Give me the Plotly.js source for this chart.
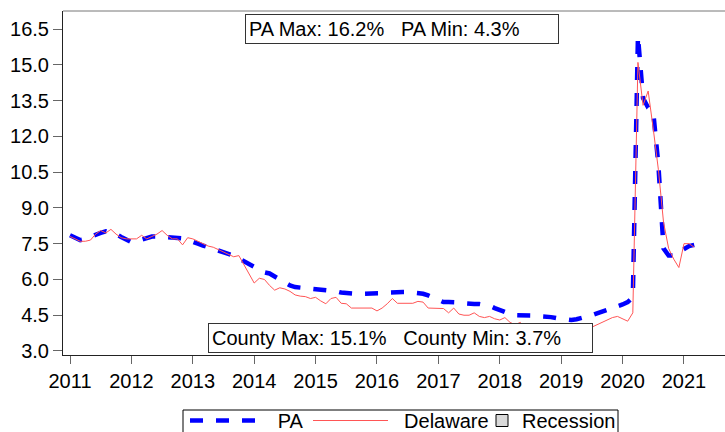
<!DOCTYPE html>
<html>
<head>
<meta charset="utf-8">
<script src="https://cdn.plot.ly/plotly-3.0.1.min.js"></script>
<style>html,body{margin:0;padding:0;background:#fff;}#chart{width:725px;height:432px;}</style>
</head>
<body>
<div id="chart"></div>
<script>
// Monthly unemployment rate (%), Jan 2011 .. Mar 2021
const startYear = 2011;
const paRate = [
  7.85, 7.75, 7.65, 7.7, 7.8, 7.88, 7.95, 8.02, 7.98, 7.9, 7.78, 7.65,
  7.56, 7.6, 7.68, 7.75, 7.8, 7.8, 7.78, 7.77, 7.77, 7.76, 7.72, 7.66,
  7.6, 7.5, 7.42, 7.35, 7.27, 7.18, 7.1, 7.05, 7.0, 6.88, 6.76, 6.65,
  6.55, 6.42, 6.3, 6.25, 6.12, 6.0, 5.85, 5.75, 5.68, 5.66, 5.63, 5.6,
  5.57, 5.56, 5.56, 5.55, 5.5, 5.45, 5.42, 5.4, 5.4, 5.4, 5.4, 5.4,
  5.4, 5.42, 5.45, 5.47, 5.47, 5.47, 5.47, 5.45, 5.42, 5.4, 5.33, 5.25,
  5.15, 5.05, 5.05, 5.05, 5.03, 5.0, 4.97, 4.97, 4.97, 4.95, 4.9, 4.8,
  4.7, 4.6, 4.55, 4.5, 4.5, 4.5, 4.5, 4.48, 4.45, 4.45, 4.42, 4.38,
  4.35, 4.32, 4.3, 4.33, 4.38, 4.42, 4.5, 4.58, 4.65, 4.72, 4.8, 4.85,
  4.95, 5.05, 5.25, 16.2, 13.6, 13.2, 13.0, 10.8, 7.3, 7.0, 7.0, 7.15,
  7.3, 7.4, 7.45
];
const delawareRate = [
  7.8, 7.7, 7.6, 7.6, 7.65, 7.9, 8.05, 7.95, 8.1, 7.9, 7.75, 7.7,
  7.7, 7.7, 7.85, 7.7, 7.8, 7.9, 8.05, 7.85, 7.7, 7.7, 7.45, 7.75,
  7.7, 7.6, 7.5, 7.4, 7.35, 7.25, 7.15, 7.05, 6.95, 7.0, 6.6, 6.2,
  5.85, 6.05, 6.0, 5.75, 5.55, 5.65, 5.6, 5.5, 5.35, 5.3, 5.28, 5.2,
  5.25, 5.1, 4.98, 5.2, 5.25, 5.0, 4.98, 4.8, 4.8, 4.8, 4.8, 4.8,
  4.68, 4.8, 4.98, 5.2, 5.0, 5.0, 5.0, 5.0, 5.08, 5.05, 4.8, 4.8,
  4.8, 4.78, 4.6, 4.8, 4.55, 4.5, 4.5, 4.6, 4.45, 4.4, 4.45, 4.35,
  4.3, 4.4, 4.2, 4.1, 4.2, 4.0, 4.0, 4.0, 3.95, 3.95, 3.9, 3.9,
  3.85, 3.7, 3.9, 3.85, 3.9, 3.9, 4.0, 4.1, 4.2, 4.3, 4.4, 4.45,
  4.35, 4.25, 4.6, 15.1, 13.3, 13.9, 12.3, 10.6, 8.4, 7.3, 6.85, 6.5,
  7.5, 7.5, 7.35
];
const yearTicks = [2011, 2012, 2013, 2014, 2015, 2016, 2017, 2018, 2019, 2020, 2021];
const yearLabels = ['2011', '2012', '2013', '2014', '2015', '2016', '2017', '2018', '2019', '2020', '2021'];
const yTicks = [3.0, 4.5, 6.0, 7.5, 9.0, 10.5, 12.0, 13.5, 15.0, 16.5];
const seriesNames = ['PA', 'Delaware', 'Recession'];
const paNote = 'PA Max: 16.2%\u00a0\u00a0\u00a0PA Min: 4.3%';
const countyNote = 'County Max: 15.1%\u00a0\u00a0\u00a0County Min: 3.7%';

const monthX = paRate.map((_, i) => startYear + i / 12);
const monthXd = delawareRate.map((_, i) => startYear + i / 12);

const FONT = 'Liberation Sans, Arial, sans-serif';
const NB = '\u00a0';

const traces = [
  {
    type: 'scatter', mode: 'lines', name: NB + NB + NB + seriesNames[0],
    x: monthX, y: paRate, legend: 'legend',
    line: { color: '#0000ff', width: 4.5, dash: '13px,13px' }
  },
  {
    type: 'scatter', mode: 'lines', name: NB + NB + seriesNames[1],
    x: monthXd, y: delawareRate, legend: 'legend2',
    line: { color: 'rgb(255,85,85)', width: 1 }
  },
  {
    type: 'bar', name: seriesNames[2], legend: 'legend3',
    x: [null], y: [null],
    marker: { color: '#d9d9d9', line: { color: '#000', width: 1 } }
  }
];

const W = 725, H = 432, ML = 63, MT = 11, MB = 77;
const PW = W - ML, PH = H - MT - MB;
const px = v => (v - ML) / PW;           // pixel x -> paper x
const py = v => (H - MB - v) / PH;       // pixel y -> paper y
const legendTop = 1 - 401 / H;           // container y of legend rows

function legendCfg(xPix, itemW) {
  return {
    orientation: 'h', xref: 'paper', yref: 'container',
    x: px(xPix), xanchor: 'left', y: legendTop, yanchor: 'top',
    borderwidth: 0, bgcolor: 'rgba(0,0,0,0)',
    font: { family: FONT, size: 20, color: '#000' },
    itemwidth: itemW
  };
}

const layout = {
  width: W, height: H,
  margin: { l: ML, r: 0, t: MT, b: MB },
  paper_bgcolor: '#fff', plot_bgcolor: '#fff',
  font: { family: FONT, size: 20, color: '#000' },
  showlegend: true,
  legend: legendCfg(185, 66),
  legend2: legendCfg(308, 75),
  legend3: legendCfg(482, 30),
  xaxis: {
    range: [2010.886, 2021.668],
    tickvals: yearTicks, ticktext: yearLabels,
    showgrid: false, zeroline: false,
    showline: true, linecolor: '#222', linewidth: 1,
    ticks: 'outside', ticklen: 8, tickcolor: '#666', tickwidth: 1,
    tickfont: { family: FONT, size: 20, color: '#000' }
  },
  yaxis: {
    range: [2.832, 17.255],
    tickvals: yTicks, ticktext: yTicks.map(v => v.toFixed(1)),
    showgrid: false, zeroline: false,
    showline: true, linecolor: '#222', linewidth: 1,
    ticks: 'outside', ticklen: 9, tickcolor: '#666', tickwidth: 1,
    tickfont: { family: FONT, size: 20, color: '#000' }
  },
  shapes: [
    { type: 'line', xref: 'paper', yref: 'paper', x0: 0, x1: 1, y0: 1, y1: 1,
      line: { color: '#777', width: 1 } },
    { type: 'rect', xref: 'paper', yref: 'paper', layer: 'below',
      x0: px(183), x1: px(618), y0: py(410), y1: py(445),
      line: { color: '#000', width: 1 }, fillcolor: 'rgba(0,0,0,0)' }
  ],
  annotations: [
    { xref: 'paper', yref: 'paper', x: px(401.5), y: py(29), xanchor: 'center', yanchor: 'middle',
      text: paNote, showarrow: false, align: 'left', width: 306,
      bordercolor: '#333', borderwidth: 1, borderpad: 3, bgcolor: '#fff',
      font: { family: FONT, size: 20, color: '#000' } },
    { xref: 'paper', yref: 'paper', x: px(400.5), y: py(337.5), xanchor: 'center', yanchor: 'middle',
      text: countyNote, showarrow: false, align: 'left', width: 377,
      bordercolor: '#333', borderwidth: 1, borderpad: 3, bgcolor: '#fff',
      font: { family: FONT, size: 20, color: '#000' } }
  ]
};

Plotly.newPlot('chart', traces, layout, { displayModeBar: false, staticPlot: true });
</script>
</body>
</html>
